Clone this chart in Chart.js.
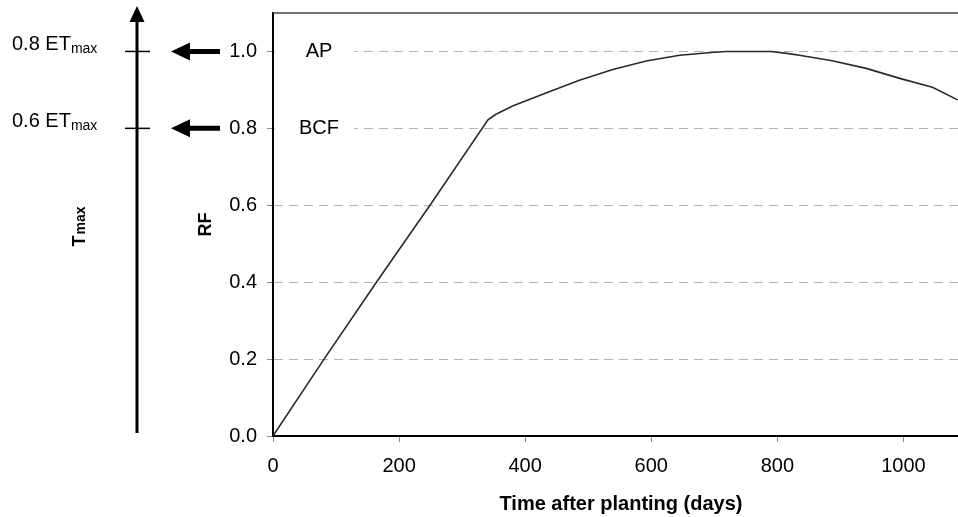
<!DOCTYPE html>
<html>
<head>
<meta charset="utf-8">
<title>RF vs time after planting</title>
<script src="https://cdn.jsdelivr.net/npm/chart.js@4"></script>
<style>
  html, body { margin: 0; padding: 0; background: #fff; overflow: hidden; }
</style>
</head>
<body>
<canvas id="chart-rf" width="969" height="517"></canvas>
<script>
// response factor curve, read in days after planting
const days = [0, 81, 164, 249, 341, 353, 380, 433, 486, 539, 592, 645, 700, 720, 790, 815, 835, 887, 941, 994, 1046, 1086];
const rf   = [0, 0.2, 0.4, 0.6, 0.822, 0.836, 0.858, 0.892, 0.925, 0.953, 0.975, 0.99, 0.998, 1.0, 1.0, 0.995, 0.99, 0.976, 0.956, 0.93, 0.907, 0.874];

const dayMax = 1104;
const rfMax  = 1.1;

// stage labels sitting on the grid lines
const stageNames  = ['AP', 'BCF'];
const stageLevels = [1.0, 0.8];
const stageLabelAt  = 73;   // days, label centre
const stageLabelEnd = 129;  // days, end of the label box

// transpiration levels matching the RF levels
const etNames  = ['0.8 ET', '0.6 ET'];
const etLevels = [1.0, 0.8];

const FONT = '"Liberation Sans", Arial, sans-serif';
Chart.defaults.font.family = FONT;
Chart.defaults.color = '#000';

const annotations = {
  id: 'annotations',
  afterDraw(chart) {
    const { ctx, chartArea: area, scales: { x, y } } = chart;
    ctx.save();

    // frame line along the top
    ctx.strokeStyle = '#444';
    ctx.lineWidth = 1.5;
    ctx.beginPath();
    ctx.moveTo(area.left, area.top);
    ctx.lineTo(area.right, area.top);
    ctx.stroke();

    // AP / BCF with a white box over the dashes
    const boxRight = x.getPixelForValue(stageLabelEnd);
    stageNames.forEach((name, i) => {
      const py = y.getPixelForValue(stageLevels[i]);
      ctx.fillStyle = '#fff';
      ctx.fillRect(area.left + 2, py - 3, boxRight - area.left - 2, 6);
      ctx.fillStyle = '#000';
      ctx.font = '20px ' + FONT;
      ctx.textAlign = 'center';
      ctx.textBaseline = 'middle';
      ctx.fillText(name, x.getPixelForValue(stageLabelAt), py);
    });

    // Tmax axis on the left with its arrow head
    const ax = 137;
    ctx.strokeStyle = '#000';
    ctx.fillStyle = '#000';
    ctx.lineWidth = 3;
    ctx.beginPath();
    ctx.moveTo(ax, area.bottom - 3);
    ctx.lineTo(ax, 20);
    ctx.stroke();
    ctx.beginPath();
    ctx.moveTo(ax, 6);
    ctx.lineTo(ax - 7.5, 22);
    ctx.lineTo(ax + 7.5, 22);
    ctx.closePath();
    ctx.fill();

    etNames.forEach((name, i) => {
      const py = y.getPixelForValue(etLevels[i]);
      // tick on the Tmax axis
      ctx.lineWidth = 1.5;
      ctx.beginPath();
      ctx.moveTo(ax - 12, py);
      ctx.lineTo(ax + 13, py);
      ctx.stroke();
      // thick arrow pointing from the RF axis
      ctx.lineWidth = 5;
      ctx.beginPath();
      ctx.moveTo(220, py);
      ctx.lineTo(186, py);
      ctx.stroke();
      ctx.beginPath();
      ctx.moveTo(171, py);
      ctx.lineTo(190, py - 9);
      ctx.lineTo(190, py + 9);
      ctx.closePath();
      ctx.fill();
      // label with subscript
      ctx.textAlign = 'left';
      ctx.textBaseline = 'alphabetic';
      ctx.font = '20px ' + FONT;
      ctx.fillText(name, 12, py - 1.5);
      const w = ctx.measureText(name).width;
      ctx.font = '14px ' + FONT;
      ctx.fillText('max', 12 + w, py + 1.5);
    });

    // rotated Tmax title
    ctx.translate(85, 246.5);
    ctx.rotate(-Math.PI / 2);
    ctx.textAlign = 'left';
    ctx.textBaseline = 'alphabetic';
    ctx.font = 'bold 18px ' + FONT;
    ctx.fillText('T', 0, 0);
    const tw = ctx.measureText('T').width;
    ctx.font = 'bold 14px ' + FONT;
    ctx.fillText('max', tw + 1, 0);

    ctx.restore();
  }
};

new Chart(document.getElementById('chart-rf'), {
  type: 'line',
  data: {
    datasets: [{
      label: 'RF',
      data: days.map((d, i) => ({ x: d, y: rf[i] })),
      borderColor: '#2a2a2a',
      borderWidth: 1.6,
      pointRadius: 0,
      tension: 0,
      fill: false
    }]
  },
  options: {
    responsive: false,
    animation: false,
    devicePixelRatio: 1,
    layout: { padding: { left: 190, top: 13, right: 0, bottom: 0 } },
    plugins: {
      legend: { display: false },
      tooltip: { enabled: false }
    },
    scales: {
      x: {
        type: 'linear',
        min: 0,
        max: dayMax,
        ticks: {
          stepSize: 200,
          includeBounds: false,
          padding: 12,
          maxRotation: 0,
          font: { size: 20 },
          color: '#000',
          callback: v => String(v)
        },
        grid: { drawOnChartArea: false, tickLength: 6, tickColor: '#888', tickWidth: 1 },
        border: { color: '#000', width: 2 },
        title: {
          display: true,
          text: 'Time after planting (days)',
          font: { size: 20, weight: 'bold' },
          color: '#000',
          padding: { top: 0, bottom: 1 }
        },
        afterFit(scale) {
          scale.height = 81;
          scale.paddingLeft = 0;
          scale.paddingRight = 0;
        }
      },
      y: {
        min: 0,
        max: rfMax,
        ticks: {
          stepSize: 0.2,
          includeBounds: false,
          padding: 10,
          font: { size: 20 },
          color: '#000',
          callback: v => v.toFixed(1)
        },
        grid: { color: '#b4b4b4', lineWidth: 1, tickLength: 6, tickColor: '#888', tickWidth: 1 },
        border: { color: '#000', width: 2, dash: [9, 6] },
        title: {
          display: true,
          text: 'RF',
          font: { size: 18, weight: 'bold' },
          color: '#000',
          padding: { top: 5, bottom: 0 }
        },
        afterFit(scale) {
          scale.width = 83;
          scale.paddingTop = 0;
          scale.paddingBottom = 0;
        }
      }
    }
  },
  plugins: [annotations]
});
</script>
</body>
</html>
